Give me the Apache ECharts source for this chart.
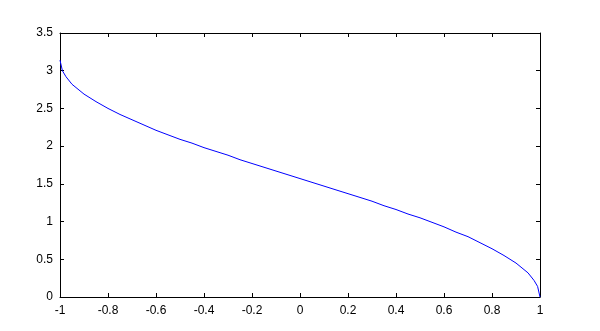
<!DOCTYPE html>
<html><head><meta charset="utf-8">
<script src="https://cdn.jsdelivr.net/npm/echarts@6/dist/echarts.min.js"></script>
<style>html,body{margin:0;padding:0;background:#fff}#c{width:600px;height:331px}</style>
</head><body><div id="c"></div>
<script>
const xs = [-1, -0.99, -0.975, -0.95, -0.9, -0.85, -0.8, -0.75, -0.7, -0.65, -0.6, -0.55, -0.5, -0.45, -0.4, -0.35, -0.3, -0.25, -0.2, -0.15, -0.1, -0.05, 0, 0.05, 0.1, 0.15, 0.2, 0.25, 0.3, 0.35, 0.4, 0.45, 0.5, 0.55, 0.6, 0.65, 0.7, 0.75, 0.8, 0.85, 0.9, 0.95, 0.975, 0.99, 1];
const ys = [3.14, 3.0, 2.92, 2.82, 2.69, 2.59, 2.50, 2.42, 2.35, 2.28, 2.21, 2.15, 2.09, 2.04, 1.98, 1.93, 1.88, 1.82, 1.77, 1.72, 1.67, 1.62, 1.57, 1.52, 1.47, 1.42, 1.37, 1.32, 1.27, 1.21, 1.16, 1.10, 1.05, 0.99, 0.93, 0.86, 0.80, 0.72, 0.64, 0.55, 0.45, 0.32, 0.22, 0.14, 0];
const chart = echarts.init(document.getElementById('c'), null, {renderer: 'canvas'});
const font = {fontFamily: 'Liberation Sans, Arial, sans-serif', fontSize: 12, color: '#000'};
const line = {show: true, onZero: false, lineStyle: {color: '#000', width: 1}};
const tick = {show: true, inside: true, length: 4, lineStyle: {color: '#000', width: 1}};
chart.setOption({
  animation: false,
  grid: {left: 60, right: 60, top: 33, bottom: 34, show: false},
  xAxis: [
    {type: 'value', min: -1, max: 1, interval: 0.2, position: 'bottom', axisLine: line, axisTick: tick, splitLine: {show: false},
     axisLabel: Object.assign({margin: 8, formatter: v => String(Math.round(v*10)/10)}, font)},
    {type: 'value', min: -1, max: 1, interval: 0.2, position: 'top', axisLine: line, axisTick: tick, splitLine: {show: false}, axisLabel: {show: false}}
  ],
  yAxis: [
    {type: 'value', min: 0, max: 3.5, interval: 0.5, position: 'left', axisLine: line, axisTick: tick, splitLine: {show: false},
     axisLabel: Object.assign({margin: 7}, font)},
    {type: 'value', min: 0, max: 3.5, interval: 0.5, position: 'right', axisLine: line, axisTick: tick, splitLine: {show: false}, axisLabel: {show: false}}
  ],
  series: [{type: 'line', data: xs.map((x, i) => [x, ys[i]]), showSymbol: false, lineStyle: {color: '#0000ff', width: 1}}]
});
</script></body></html>
